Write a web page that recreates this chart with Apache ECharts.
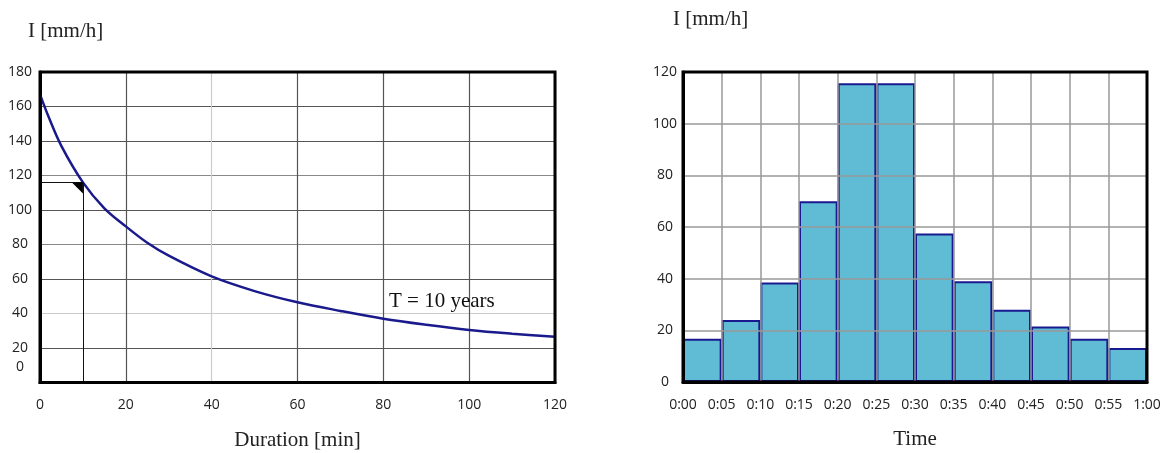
<!DOCTYPE html>
<html>
<head>
<meta charset="utf-8">
<script src="https://cdn.jsdelivr.net/npm/echarts@6/dist/echarts.min.js"></script>
<style>
  html, body { margin: 0; padding: 0; background: #fff; }
  #chart { width: 1167px; height: 453px; }
</style>
</head>
<body>
<div id="chart"></div>
<script>
// IDF curve, T = 10 years (duration in min, intensity in mm/h)
const durations = [0, 2, 5, 10, 15, 20, 25, 30, 40, 50, 60, 70, 80, 90, 100, 110, 120]
const intensities = [167, 154, 137, 116, 101, 90.5, 81, 73.5, 61.5, 53, 46.5, 41.5, 37, 33.5, 30.5, 28.3, 26.5]
// read-off point marked on the curve
const markDuration = 10
const markIntensity = 116

// hyetograph, 5 min blocks
const blocks = ['0:00', '0:05', '0:10', '0:15', '0:20', '0:25', '0:30', '0:35', '0:40', '0:45', '0:50', '0:55']
const blockIntensity = [16.7, 24, 38.5, 70, 115.6, 115.6, 57.5, 39, 28, 21.5, 16.7, 13.2]
const timeLabels = ['0:00', '0:05', '0:10', '0:15', '0:20', '0:25', '0:30', '0:35', '0:40', '0:45', '0:50', '0:55', '1:00']

const serif = 'Liberation Serif'
const sans = 'Open Sans'
const tickFont = { fontFamily: sans, fontSize: 14, color: '#222' }

const dark = '#555'
const mid = '#888'
const light = '#ccc'

const chart = echarts.init(document.getElementById('chart'))
chart.setOption({
  animation: false,
  backgroundColor: '#fff',
  title: [
    { text: 'I [mm/h]', left: 23, top: 16, textStyle: { fontFamily: serif, fontSize: 21, fontWeight: 'normal', color: '#222' } },
    { text: 'I [mm/h]', left: 668, top: 4, textStyle: { fontFamily: serif, fontSize: 21, fontWeight: 'normal', color: '#222' } },
    { text: 'T = 10 years', left: 384, top: 286, textStyle: { fontFamily: serif, fontSize: 21, fontWeight: 'normal', color: '#111' } }
  ],
  // frames drawn on top of everything (no fill)
  grid: [
    { left: 40, top: 72, right: 612, bottom: 70.5, outerBoundsMode: 'none', z: 10, show: true, borderColor: '#000', borderWidth: 3, backgroundColor: 'transparent' },
    { left: 683, top: 72, right: 20, bottom: 71, outerBoundsMode: 'none', z: 10, show: true, borderColor: '#000', borderWidth: 3, backgroundColor: 'transparent' }
  ],
  xAxis: [
    {
      gridIndex: 0, type: 'value', position: 'bottom', min: 0, max: 120, interval: 20,
      name: 'Duration [min]', nameLocation: 'middle', nameGap: 47,
      nameTextStyle: { fontFamily: serif, fontSize: 21, color: '#222' },
      axisLine: { lineStyle: { color: '#000', width: 3 } },
      axisTick: { show: false },
      axisLabel: Object.assign({ margin: 16 }, tickFont),
      splitLine: { lineStyle: { color: [dark, dark, light, dark, dark, dark, dark], width: 1.2 } }
    },
    {
      gridIndex: 1, type: 'category', position: 'bottom', data: blocks, boundaryGap: true, z: 5,
      axisLine: { show: false },
      axisTick: { show: false },
      axisLabel: { show: false },
      splitLine: { show: true, interval: 0, lineStyle: { color: '#999', width: 1.5 } }
    },
    {
      gridIndex: 1, type: 'value', position: 'bottom', offset: 0, min: 0, max: 60, interval: 5, z: 6,
      name: 'Time', nameLocation: 'middle', nameGap: 47,
      nameTextStyle: { fontFamily: serif, fontSize: 21, color: '#222' },
      axisLine: { lineStyle: { color: '#000', width: 3 } },
      axisTick: { show: false },
      axisLabel: Object.assign({ margin: 16, formatter: v => timeLabels[Math.round(v / 5)] }, tickFont),
      splitLine: { show: false }
    }
  ],
  yAxis: [
    {
      gridIndex: 0, type: 'value', min: 0, max: 180, interval: 20,
      axisLine: { lineStyle: { color: '#000', width: 3 } },
      axisTick: { show: false },
      axisLabel: Object.assign({
        margin: 20, align: 'center',
        formatter: v => v === 0 ? '{z|0}' : String(v),
        rich: { z: { fontFamily: sans, fontSize: 14, color: '#222', padding: [0, 0, 30, 0] } }
      }, tickFont),
      splitLine: { lineStyle: { color: [dark, dark, light, dark, mid, dark, mid, dark, dark, dark], width: 1.2 } }
    },
    {
      gridIndex: 1, type: 'value', min: 0, max: 120, interval: 20, z: 5,
      axisLine: { lineStyle: { color: '#000', width: 3 } },
      axisTick: { show: false },
      axisLabel: Object.assign({ margin: 18, align: 'center' }, tickFont),
      splitLine: { lineStyle: { color: '#999', width: 1.5 } }
    }
  ],
  series: [
    {
      type: 'line', xAxisIndex: 0, yAxisIndex: 0,
      data: durations.map((d, i) => [d, intensities[i]]),
      smooth: 0.35, showSymbol: false,
      lineStyle: { color: '#1a1a8c', width: 2.5 },
      z: 4,
      markLine: {
        silent: true, symbol: ['none', 'none'], label: { show: false },
        lineStyle: { color: '#111', width: 1, type: 'solid' },
        data: [
          [{ coord: [0, markIntensity] }, { coord: [markDuration, markIntensity] }],
          [{ coord: [markDuration, markIntensity] }, { coord: [markDuration, 0] }]
        ]
      },
      markPoint: {
        silent: true,
        symbol: 'path://M0,0L11,0L11,11Z',
        symbolSize: [11, 11],
        symbolOffset: [-5.5, 5.5],
        itemStyle: { color: '#000' },
        label: { show: false },
        data: [{ coord: [markDuration, markIntensity] }]
      }
    },
    {
      type: 'bar', xAxisIndex: 1, yAxisIndex: 1,
      data: blockIntensity,
      barCategoryGap: '0%',
      itemStyle: { color: '#5fbcd4', borderColor: '#1a1a90', borderWidth: 2 },
      z: 2
    }
  ]
})
</script>
</body>
</html>
